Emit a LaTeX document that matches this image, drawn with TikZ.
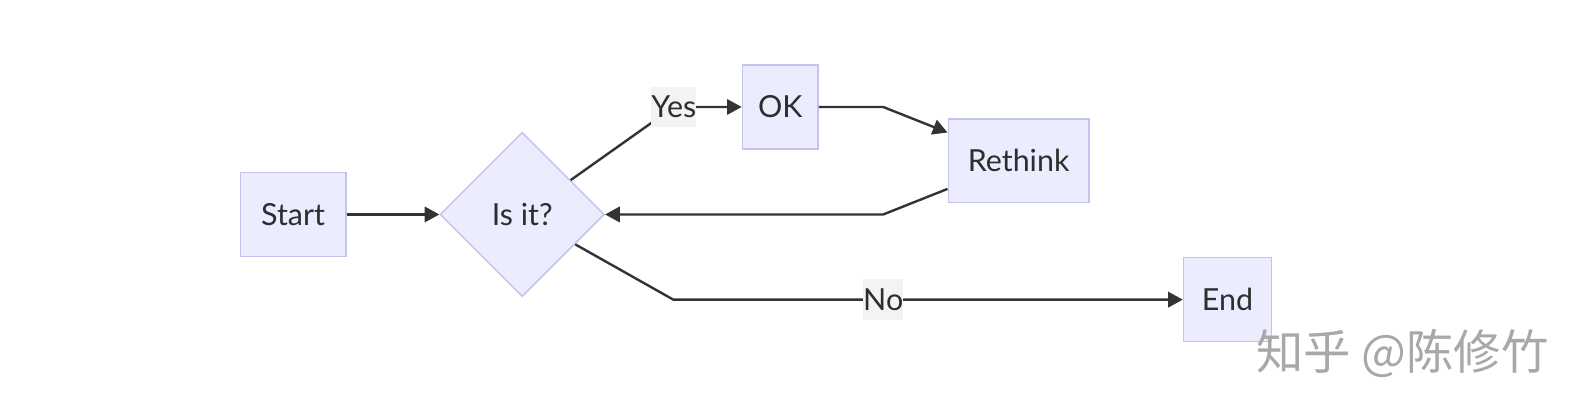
\documentclass[tikz,border=0pt]{standalone}
\usepackage{fontspec}
\setmainfont{Lato}
\newfontfamily\cjk{Noto Sans CJK SC}
\usetikzlibrary{shapes.geometric,arrows.meta}
\definecolor{nodefill}{HTML}{ECECFF}
\definecolor{nodeline}{HTML}{C6C2EC}
\definecolor{edgecol}{HTML}{333333}
\definecolor{lblfill}{HTML}{F3F3F3}
\definecolor{txtcol}{HTML}{2E2E2E}
\tikzset{
  px/.style={x=0.76052pt,y=-0.76052pt},
  box/.style={draw=nodeline,fill=nodefill,line width=1.1pt,inner sep=0pt,
    text=txtcol,font=\fontsize{22.8}{27}\selectfont},
  decision/.style={box,diamond,aspect=1,minimum width=123.2pt,minimum height=123.2pt},
  edge/.style={draw=edgecol,line width=1.8pt,line join=miter},
  arr/.style={edge,-{Triangle[length=11pt,width=11.5pt]}},
  lbl/.style={fill=lblfill,inner xsep=0pt,inner ysep=0.5pt,text=txtcol,font=\fontsize{22.8}{27}\selectfont,
    minimum height=30.5pt},
}
\begin{document}
\begin{tikzpicture}[px]
\useasboundingbox (0,0) rectangle (1568,412.2);
% nodes
\node[box,minimum width=79.1pt,minimum height=62.9pt] (s) at (289,211.5) {Start};
\node[decision] (d) at (515,211.5) {Is it?};
\node[box,minimum width=56.8pt,minimum height=62.9pt] (ok) at (769.5,105.5) {OK};
\node[box,minimum width=105.5pt,minimum height=62.9pt] (r) at (1004.5,158.5) {Rethink};
\node[box,minimum width=65.9pt,minimum height=62.9pt] (e) at (1210.5,295.5) {End};
% bend coordinates
\coordinate (yc) at (664.5,105.5);
\coordinate (okc) at (871,105.5);
\coordinate (rc) at (871,211.5);
\coordinate (nc) at (664,295.5);
\coordinate (noc) at (871,295.5);
% edges
\draw[arr] (s) -- (d);
\draw[arr] (d) -- (yc) -- (ok.west);
\draw[arr] (ok.east) -- (okc) -- (r);
\draw[arr] (r) -- (rc) -- (d.east);
\draw[arr] (d) -- (nc) -- (e.west);
% edge labels
\node[lbl] (yes) at (yc) {Yes};
\node[lbl] (no) at (noc) {No};
% watermark
\node[text=black!34,font=\cjk\fontsize{35.5}{40}\selectfont,inner sep=0pt] (wm) at (1383,349) {知乎 @陈修竹};
\end{tikzpicture}
\end{document}
